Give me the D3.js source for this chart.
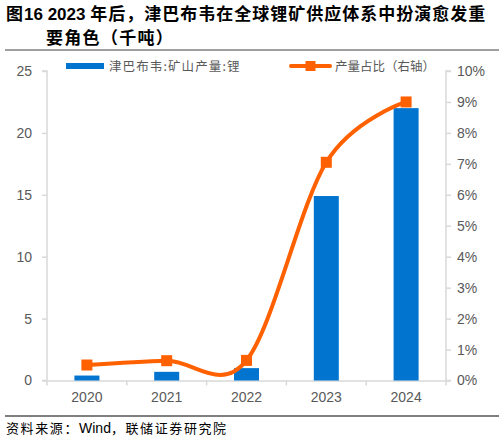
<!DOCTYPE html>
<html><head><meta charset="utf-8">
<script src="https://cdn.jsdelivr.net/npm/d3@7/dist/d3.min.js"></script>
<style>
body{margin:0;background:#fff;}
svg{display:block;font-family:"Liberation Sans",Arial,"Noto Sans CJK SC",sans-serif;}
</style></head>
<body><svg id="c" width="504" height="441"></svg>
<script>
const categories = ["2020","2021","2022","2023","2024"];
const production = [0.4, 0.7, 1.0, 14.9, 22.0];      // 千吨
const share = [0.5, 0.64, 0.65, 7.05, 9.0];           // %
const leftTicks = [0,5,10,15,20,25];
const rightTicks = [0,1,2,3,4,5,6,7,8,9,10];
const titleLine2 = "要角色（千吨）";
const legendBar = "津巴布韦:矿山产量:锂";
const legendLine = "产量占比（右轴）";

const svg = d3.select("#c");
const cjk = '"Noto Sans CJK SC",sans-serif';
const lat = '"Liberation Sans",Arial,sans-serif';
const blue = "#0174D0", orange = "#FF6100", axisC = "#D9D9D9", txtC = "#595959";

// Title
const t = svg.append("text").attr("x",6).attr("y",20).attr("font-size",17).attr("font-weight","bold")
  .attr("font-family",cjk).attr("fill","#000");
t.append("tspan").text("图").attr("font-family",cjk);
t.append("tspan").text("16 2023").attr("font-family",lat).attr("dx",1);
t.append("tspan").text(" 年后，津巴布韦在全球锂矿供应体系中扮演愈发重").attr("font-family",cjk).attr("letter-spacing",1);
svg.append("text").attr("x",46).attr("y",44).attr("font-size",17).attr("font-weight","bold")
  .attr("font-family",cjk).attr("letter-spacing",1.3).text(titleLine2);
svg.append("line").attr("x1",5).attr("x2",499).attr("y1",50).attr("y2",50).attr("stroke","#7f7f7f").attr("stroke-width",1.5);

const x0 = 47, x1 = 446, yTop = 71, yBot = 380.5;
const x = d3.scaleBand().domain(categories).range([x0,x1]).paddingInner(0).paddingOuter(0);
const yL = d3.scaleLinear().domain([0,25]).range([yBot,yTop]);
const yR = d3.scaleLinear().domain([0,10]).range([yBot,yTop]);

// Axes
const axL = d3.axisLeft(yL).tickValues(leftTicks).tickSize(5).tickPadding(10);
const gL = svg.append("g").attr("transform",`translate(${x0},0)`).call(axL);
const axR = d3.axisRight(yR).tickValues(rightTicks).tickSize(5).tickPadding(6).tickFormat(d=>d+"%");
const gR = svg.append("g").attr("transform",`translate(${x1},0)`).call(axR);
const axB = d3.axisBottom(x).tickSize(0).tickPadding(12);
const gB = svg.append("g").attr("transform",`translate(0,${yBot})`).call(axB);
// category boundary ticks
svg.append("g").selectAll("line").data(categories.concat(["end"])).join("line")
  .attr("x1",(d,i)=>x0+i*x.bandwidth()).attr("x2",(d,i)=>x0+i*x.bandwidth())
  .attr("y1",yBot).attr("y2",yBot+5).attr("stroke",axisC).attr("stroke-width",1.5);
[gL,gR,gB].forEach(g=>{
  g.selectAll(".domain").attr("stroke",axisC).attr("stroke-width",1.5);
  g.selectAll(".tick line").attr("stroke",axisC).attr("stroke-width",1.5);
  g.selectAll("text").attr("fill",txtC).attr("font-size",14).attr("font-family",lat);
});
gL.select(".domain").attr("d",`M-5,${yTop}H0V${yBot}H-5`);
gR.select(".domain").attr("d",`M5,${yTop}H0V${yBot}H5`);

// Bars
const bw = 25;
svg.append("g").selectAll("rect").data(production).join("rect")
  .attr("x",(d,i)=>x(categories[i])+x.bandwidth()/2-bw/2)
  .attr("width",bw)
  .attr("y",d=>yL(d)).attr("height",d=>yBot-yL(d)).attr("fill",blue);

// Line
const pts = share.map((d,i)=>[x(categories[i])+x.bandwidth()/2, yR(d)]);
svg.append("path").attr("d",d3.line().curve(d3.curveCatmullRom.alpha(0))(pts))
  .attr("fill","none").attr("stroke",orange).attr("stroke-width",4);
svg.append("g").selectAll("rect").data(pts).join("rect")
  .attr("x",d=>d[0]-5.5).attr("y",d=>d[1]-5.5).attr("width",11).attr("height",11).attr("fill",orange);

// Legend
svg.append("rect").attr("x",66).attr("y",63).attr("width",38).attr("height",6).attr("fill",blue);
svg.append("text").attr("x",109).attr("y",70.5).attr("font-size",12.5).attr("fill",txtC)
  .attr("font-family",cjk).attr("letter-spacing",1.1).text(legendBar);
svg.append("line").attr("x1",291).attr("x2",330).attr("y1",66).attr("y2",66).attr("stroke",orange).attr("stroke-width",4).attr("stroke-linecap","round");
svg.append("rect").attr("x",305.5).attr("y",61).attr("width",10).attr("height",10).attr("fill",orange);
svg.append("text").attr("x",335).attr("y",70.5).attr("font-size",12.5).attr("fill",txtC)
  .attr("font-family",cjk).text(legendLine);

// Source
svg.append("line").attr("x1",5).attr("x2",499).attr("y1",416).attr("y2",416).attr("stroke","#000").attr("stroke-width",1.2);
const s = svg.append("text").attr("x",6).attr("y",433).attr("font-size",13).attr("fill","#000").attr("font-family",cjk);
s.append("tspan").text("资料来源：").attr("letter-spacing",1.6);
s.append("tspan").text("Wind").attr("font-family",lat).attr("font-size",14);
s.append("tspan").text("，联储证券研究院").attr("letter-spacing",1.6);
</script></body></html>
